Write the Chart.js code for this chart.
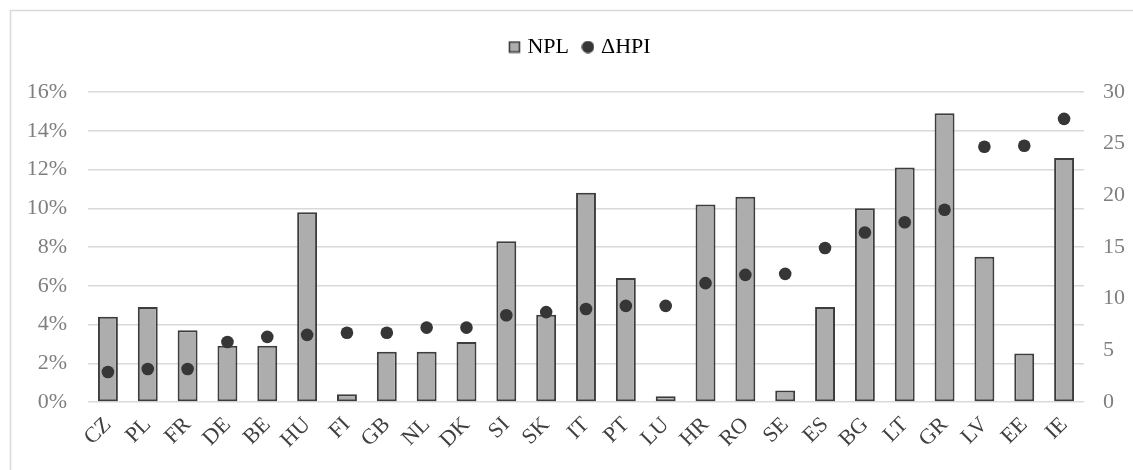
<!DOCTYPE html>
<html>
<head>
<meta charset="utf-8">
<script src="https://cdn.jsdelivr.net/npm/chart.js@4"></script>
<style>
  html, body { margin: 0; padding: 0; background: #fff; }
  #wrap { width: 1133px; height: 470px; position: relative; }
</style>
</head>
<body>
<div id="wrap"><canvas id="c" width="1133" height="470"></canvas></div>
<script>
// Country codes along the x axis
const countries = ['CZ','PL','FR','DE','BE','HU','FI','GB','NL','DK','SI','SK','IT','PT','LU','HR','RO','SE','ES','BG','LT','GR','LV','EE','IE'];
// Non-performing loans ratio (%), left axis
const npl = [4.4, 4.9, 3.7, 2.9, 2.9, 9.8, 0.4, 2.6, 2.6, 3.1, 8.3, 4.5, 10.8, 6.4, 0.3, 10.2, 10.6, 0.6, 4.9, 10.0, 12.1, 14.9, 7.5, 2.5, 12.6];
// Change in house price index, right axis
const dhpi = [2.9, 3.2, 3.2, 5.8, 6.3, 6.5, 6.7, 6.7, 7.2, 7.2, 8.4, 8.7, 9.0, 9.3, 9.3, 11.5, 12.3, 12.4, 14.9, 16.4, 17.4, 18.6, 24.7, 24.8, 27.4];
// Axis tick ranges
const leftTicks = { min: 0, max: 16, step: 2 };
const rightTicks = { min: 0, max: 30, step: 5 };

const seriesNames = ['NPL', '\u0394HPI'];

const FONT = "'Liberation Serif', 'Times New Roman', serif";
const FONT_SIZE = 22;
Chart.defaults.font.family = FONT;
Chart.defaults.font.size = FONT_SIZE;

const barFill = '#adadad';
const barEdge = '#3d3d3d';
const dotColor = '#363636';
const gridColor = '#d9d9d9';
const tickColor = '#7f7f7f';

// Top of the plot area and the band above it that holds the legend
const PLOT_TOP = 92;
const PAD_TOP = 19;
const LEGEND_SHIFT = 15;

// Small legend swatches
function swatch(kind) {
  const s = document.createElement('canvas');
  s.width = 13; s.height = 13;
  const g = s.getContext('2d');
  if (kind === 'rect') {
    g.fillStyle = barFill;
    g.fillRect(1, 1, 11, 11);
    g.strokeStyle = barEdge;
    g.lineWidth = 1.6;
    g.strokeRect(1.5, 1.5, 10, 10);
  } else {
    g.fillStyle = dotColor;
    g.beginPath();
    g.arc(6.5, 6.5, 6.2, 0, Math.PI * 2);
    g.fill();
  }
  return s;
}
const rectSwatch = swatch('rect');
const dotSwatch = swatch('dot');

// Frame around the chart, fixed legend band height and legend offset
const framePlugin = {
  id: 'frame',
  beforeInit(chart) {
    const lg = chart.legend;
    if (lg) {
      const fit = lg.fit;
      lg.fit = function () {
        fit.call(this);
        this.height = PLOT_TOP - PAD_TOP;
      };
    }
  },
  afterLayout(chart) {
    const lg = chart.legend;
    if (lg) {
      lg.left += LEGEND_SHIFT;
      lg.right += LEGEND_SHIFT;
    }
  },
  beforeDraw(chart) {
    const ctx = chart.ctx;
    ctx.save();
    ctx.fillStyle = '#ffffff';
    ctx.fillRect(0, 0, chart.width, chart.height);
    ctx.strokeStyle = gridColor;
    ctx.lineWidth = 1.6;
    ctx.beginPath();
    ctx.moveTo(10.5, chart.height);
    ctx.lineTo(10.5, 10.5);
    ctx.lineTo(chart.width, 10.5);
    ctx.stroke();
    ctx.restore();
  }
};

new Chart(document.getElementById('c'), {
  data: {
    labels: countries,
    datasets: [
      {
        type: 'line',
        label: seriesNames[1],
        data: dhpi,
        yAxisID: 'y1',
        showLine: false,
        pointRadius: 6.3,
        pointHoverRadius: 6.3,
        pointBackgroundColor: dotColor,
        pointBorderColor: dotColor,
        pointBorderWidth: 0,
        order: 0
      },
      {
        type: 'bar',
        label: seriesNames[0],
        data: npl,
        yAxisID: 'y',
        backgroundColor: barFill,
        borderColor: barEdge,
        borderWidth: 2,
        borderSkipped: false,
        barPercentage: 0.5,
        categoryPercentage: 1.0,
        order: 1
      }
    ]
  },
  options: {
    responsive: false,
    animation: false,
    layout: { padding: { top: PAD_TOP, left: 0, right: 0, bottom: 0 } },
    plugins: {
      tooltip: { enabled: false },
      legend: {
        position: 'top',
        align: 'center',
        labels: {
          usePointStyle: true,
          boxWidth: 4,
          boxHeight: 13,
          pointStyleWidth: 4,
          padding: 17,
          color: tickColor,
          font: { family: FONT, size: FONT_SIZE },
          generateLabels(chart) {
            return [
              { text: seriesNames[0], pointStyle: rectSwatch, fillStyle: barFill, strokeStyle: barEdge, lineWidth: 0, datasetIndex: 1, hidden: false },
              { text: seriesNames[1], pointStyle: dotSwatch, fillStyle: dotColor, strokeStyle: dotColor, lineWidth: 0, datasetIndex: 0, hidden: false }
            ];
          }
        }
      }
    },
    scales: {
      x: {
        grid: { display: false, drawTicks: false },
        border: { display: false },
        ticks: {
          color: '#404040',
          minRotation: 45,
          maxRotation: 45,
          autoSkip: false,
          padding: 10,
          font: { family: FONT, size: FONT_SIZE }
        },
        afterFit(scale) { scale.height = 68; }
      },
      y: {
        position: 'left',
        min: leftTicks.min,
        max: leftTicks.max,
        grid: { color: gridColor, lineWidth: 1.5, drawTicks: false },
        border: { display: false },
        ticks: {
          stepSize: leftTicks.step,
          color: tickColor,
          padding: 21,
          font: { family: FONT, size: FONT_SIZE },
          callback: v => v + '%'
        },
        afterFit(scale) { scale.width = 88; }
      },
      y1: {
        position: 'right',
        min: rightTicks.min,
        max: rightTicks.max,
        grid: { display: false, drawTicks: false },
        border: { display: false },
        ticks: {
          stepSize: rightTicks.step,
          color: tickColor,
          padding: 19,
          font: { family: FONT, size: FONT_SIZE }
        },
        afterFit(scale) { scale.width = 49; }
      }
    }
  },
  plugins: [framePlugin]
});
</script>
</body>
</html>
